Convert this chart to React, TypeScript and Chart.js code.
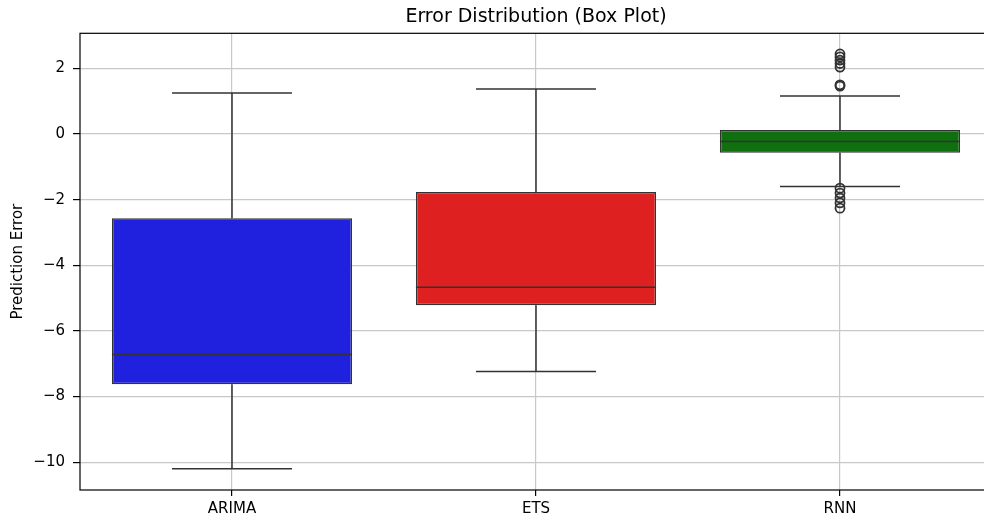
import React, { useEffect, useRef } from 'react';
import { Chart, registerables } from 'chart.js';
Chart.register(...registerables);

const categories = ['ARIMA', 'ETS', 'RNN'];
const whiskerLow = [-10.2, -7.24, -1.6];
const q1 = [-7.63, -5.22, -0.57];
const medians = [-6.72, -4.67, -0.23];
const q3 = [-2.57, -1.77, 0.12];
const whiskerHigh = [1.25, 1.37, 1.16];
const outlierCategory = 'RNN';
const outlierValues = [2.44, 2.35, 2.25, 2.15, 2.04, 1.5, 1.46, -1.65, -1.8, -1.95, -2.1, -2.26];
const yMin = -10.85;
const yMax = 3.07;
const yStep = 2;
const boxColors = ['#2020df', '#df2020', '#107010'];

const EDGE = '#333333';
const FONT = "'DejaVu Sans', sans-serif";

const whiskerPlugin = {
  id: 'whiskers',
  afterDatasetsDraw(chart: any) {
    const meta = chart.getDatasetMeta(0);
    const y = chart.scales.y;
    const ctx = chart.ctx;
    ctx.save();
    ctx.strokeStyle = EDGE;
    ctx.lineWidth = 1.5;
    meta.data.forEach((el: any, i: number) => {
      const cx = el.x;
      const half = el.width / 2;
      const cap = half / 2;
      const yq1 = y.getPixelForValue(q1[i]);
      const yq3 = y.getPixelForValue(q3[i]);
      const yHi = y.getPixelForValue(whiskerHigh[i]);
      const yLo = y.getPixelForValue(whiskerLow[i]);
      const yMed = y.getPixelForValue(medians[i]);
      ctx.beginPath();
      ctx.moveTo(cx, yq3);
      ctx.lineTo(cx, yHi);
      ctx.moveTo(cx - cap, yHi);
      ctx.lineTo(cx + cap, yHi);
      ctx.moveTo(cx, yq1);
      ctx.lineTo(cx, yLo);
      ctx.moveTo(cx - cap, yLo);
      ctx.lineTo(cx + cap, yLo);
      ctx.moveTo(cx - half, yMed);
      ctx.lineTo(cx + half, yMed);
      ctx.stroke();
    });
    const a = chart.chartArea;
    ctx.strokeStyle = '#000';
    ctx.lineWidth = 1.2;
    ctx.strokeRect(a.left, a.top, a.right - a.left, a.bottom - a.top);
    ctx.restore();
  },
};

export default function App() {
  const ref = useRef<HTMLCanvasElement | null>(null);
  useEffect(() => {
    if (!ref.current) return;
    const chart = new Chart(ref.current, {
      type: 'bar',
      data: {
        labels: categories,
        datasets: [
          {
            type: 'bar',
            data: categories.map((_, i) => [q1[i], q3[i]]) as any,
            backgroundColor: boxColors,
            borderColor: EDGE,
            borderWidth: 1.5,
            borderSkipped: false,
            barPercentage: 0.79,
            categoryPercentage: 1,
          },
          {
            type: 'line',
            data: outlierValues.map((v) => ({ x: outlierCategory, y: v })) as any,
            showLine: false,
            pointRadius: 4.5,
            pointBorderWidth: 1.8,
            pointBorderColor: EDGE,
            pointBackgroundColor: 'rgba(0,0,0,0)',
            pointStyle: 'circle',
          },
        ],
      },
      options: {
        animation: false,
        responsive: true,
        maintainAspectRatio: false,
        devicePixelRatio: 1,
        layout: { padding: { top: 0, left: 0, right: 8, bottom: 0 } },
        plugins: {
          legend: { display: false },
          tooltip: { enabled: false },
          title: {
            display: true,
            text: 'Error Distribution (Box Plot)',
            fullSize: false,
            color: '#000',
            font: { family: FONT, size: 19, weight: 'normal' },
            padding: { top: 6, bottom: 4.5 },
          },
        },
        scales: {
          x: {
            offset: true,
            afterFit: (s: any) => {
              s.height = 29;
            },
            grid: {
              offset: false,
              color: '#c8c8c8',
              lineWidth: 1.2,
              tickColor: '#000',
              tickLength: 6,
              tickWidth: 1.2,
              drawTicks: true,
            },
            border: { display: false },
            ticks: {
              color: '#000',
              padding: 4,
              font: { family: FONT, size: 15 },
            },
          },
          y: {
            min: yMin,
            max: yMax,
            afterFit: (s: any) => {
              s.width = 80;
            },
            grid: {
              color: '#c8c8c8',
              lineWidth: 1.2,
              tickColor: '#000',
              tickLength: 7,
              tickWidth: 1.2,
            },
            border: { display: false },
            ticks: {
              stepSize: yStep,
              includeBounds: false,
              color: '#000',
              padding: 8,
              font: { family: FONT, size: 15 },
              callback: (v: any) => (v < 0 ? '\u2212' + Math.abs(v) : String(v)),
            },
            title: {
              display: true,
              text: 'Prediction Error',
              color: '#000',
              font: { family: FONT, size: 15 },
              padding: { top: 9, bottom: 0 },
            },
          },
        },
      } as any,
      plugins: [whiskerPlugin],
    });
    return () => chart.destroy();
  }, []);
  return (
    <div style={{ position: 'fixed', left: 0, top: 0, width: 984, height: 519, overflow: 'hidden', background: '#fff' }}>
      <div style={{ position: 'relative', width: 1000, height: 519 }}>
        <canvas ref={ref} />
      </div>
    </div>
  );
}
